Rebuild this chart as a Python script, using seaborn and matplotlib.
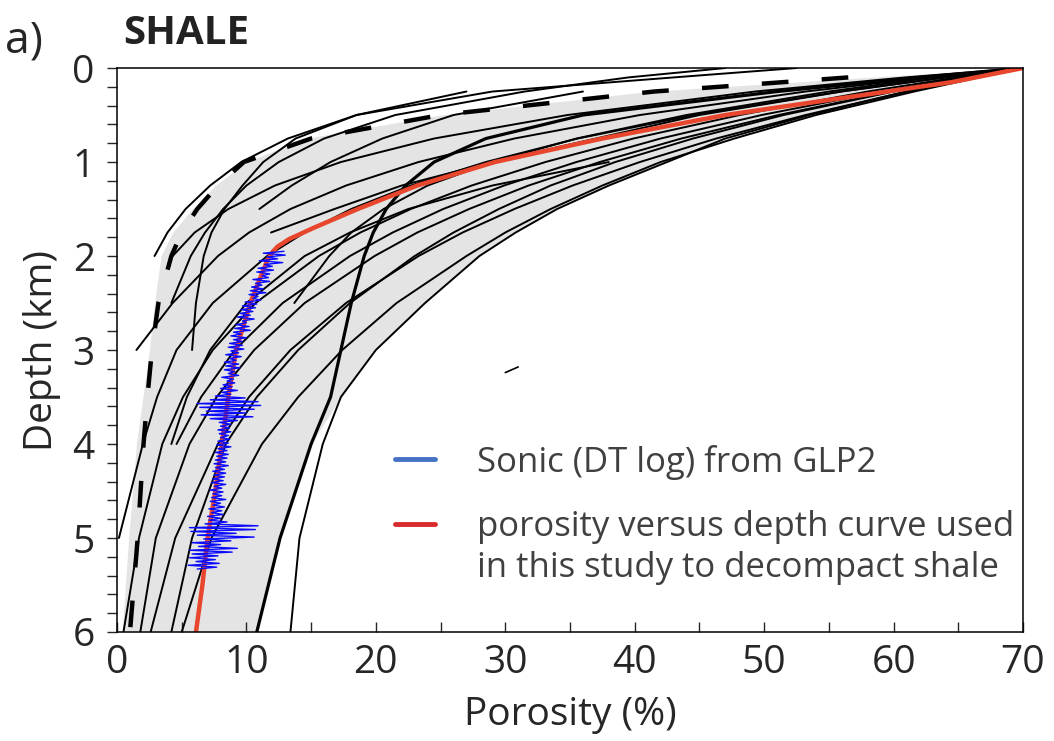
import numpy as np
import pandas as pd
import matplotlib.pyplot as plt
import seaborn as sns
from matplotlib.lines import Line2D
from matplotlib.ticker import MultipleLocator

nan = np.nan

# depth grid (km) shared by the published compaction curves
DEPTH_GRID = [0, 0.1, 0.25, 0.5, 0.75, 1.0, 1.25, 1.5, 1.75, 2.0, 2.5, 3.0, 3.5, 4.0, 5.0, 6.0]

# porosity (%) of every black curve at DEPTH_GRID
curve_r1 = [70, 66.5, 61.0, 53.5, 47.0, 42.5, 38.0, 34.0, 30.8, 28.0, 23.8, 20.0, 17.3, 15.9, 14.1, 13.4]
curve_r2 = [70, 62.0, 51.0, 36.0, 28.5, 24.5, 22.3, 20.8, 19.8, 19.1, 18.1, 17.3, 16.5, 15.0, 12.6, 10.8]
curve_a = [70, 66.6, 61.6, 54.0, 47.7, 42.0, 37.5, 33.5, 30.0, 27.0, 21.6, 17.4, 14.0, 11.2, 7.3, 5.0]
curve_b = [70, 66.0, 60.0, 51.5, 44.5, 38.5, 33.5, 29.5, 26.0, 23.0, 18.0, 14.0, 10.8, 8.4, 5.8, 4.2]
curve_c = [70, 66.3, 61.0, 53.2, 46.3, 40.4, 35.2, 30.7, 26.7, 23.3, 17.7, 13.4, 10.2, 7.8, 4.5, 2.6]
curve_d = [70, 65.7, 59.8, 51.1, 43.6, 37.3, 31.8, 27.2, 23.2, 19.9, 14.5, 10.6, 7.7, 5.6, 3.0, 1.8]
curve_e = [70, 65.4, 59.1, 49.8, 42.0, 35.5, 29.9, 25.2, 21.3, 18.0, 12.8, 9.1, 6.5, 4.6, nan, nan]
curve_f = [70, 64.9, 58.0, 48.1, 39.9, 33.1, 27.4, 22.7, 18.8, 15.6, 10.7, 7.4, 5.1, 3.5, 1.7, 0.5]
curve_g = [70, 64.0, 55.9, 44.6, 35.6, 28.5, 22.7, 18.1, 14.5, 11.6, 7.4, 4.6, 3.1, 2.0, 0.15, nan]
curve_h = [70, 62.7, 53.2, 40.4, 30.7, 23.3, 17.7, 13.4, 10.2, 7.8, 4.3, 1.5, nan, nan, nan, nan]
curve_i = [70, 60.9, 49.3, 34.8, 24.5, 17.3, 12.2, 8.6, 6.0, 4.3, nan, nan, nan, nan, nan, nan]
curve_top1 = [52.5, 43.0, 29.0, 18.5, 13.2, 9.6, 7.2, 5.3, 3.9, 2.9, nan, nan, nan, nan, nan, nan]
curve_top2 = [47.0, 39.5, 31.5, 21.5, 16.0, 12.5, 10.0, 8.2, 6.8, 5.7, 4.2, nan, nan, nan, nan, nan]
curve_short1 = [nan, nan, 36.0, 26.0, 20.5, 16.5, 13.5, 11.0, nan, nan, nan, nan, nan, nan, nan, nan]
curve_steep = [nan, nan, 27.0, 18.5, 13.8, 11.3, 9.7, 8.3, 7.3, 6.7, 6.1, 5.8, nan, nan, nan, nan]
curve_short2 = [70, 63.0, 55.0, 44.0, 35.5, 29.0, 24.0, 20.6, 18.1, 16.4, 13.7, nan, nan, nan, nan, nan]
curve_knee = [70, 64.0, 56.0, 45.0, 37.0, 29.0, 22.0, 16.8, 11.9, nan, nan, nan, nan, nan, nan, nan]
curve_mid = [nan, nan, nan, nan, nan, 38.0, 29.0, 22.5, 18.0, 14.5, 10.0, 7.2, 5.4, 4.2, nan, nan]
curve_dashed = [nan, 56.5, 41.5, 25.0, 15.0, 9.8, 7.8, 6.2, 5.0, 4.2, 3.2, 2.7, 2.35, 2.05, 1.6, 1.0]

# shaded envelope
gray_left = [70, 58.0, 41.0, 25.0, 14.5, 10.0, 7.6, 5.8, 4.3, 3.4, 2.9, 2.5, 2.0, 1.5, 0.9, 0.4]
gray_right = [70, 66.5, 61.0, 53.5, 47.0, 42.5, 38.0, 34.0, 30.8, 28.0, 23.8, 20.0, 17.3, 15.0, 12.6, 10.8]

# short stray stroke
stroke_depth = [3.24, 3.18]
stroke_poro = [30.0, 31.0]

# red curve used in this study
red_depth = [0, 0.15, 0.3, 0.5, 0.75, 1.0, 1.25, 1.5, 1.7, 1.82, 1.9, 1.96, 2.05, 2.5, 3.0, 3.5, 4.0, 4.5, 5.0, 5.5, 6.0]
red_poro = [70, 64.5, 57.0, 47.0, 37.5, 29.2, 23.2, 18.6, 15.2, 13.3, 12.4, 12.0, 11.6, 10.3, 9.2, 8.6, 8.1, 7.6, 7.0, 6.6, 6.1]

# sonic log GLP2, sampled every 0.02 km from 1.95 km
blue_poro = [
    12.9, 11.3, 13.0, 11.6, 12.4, 11.0, 12.8, 11.4, 12.0, 10.9,
    12.1, 10.8, 11.8, 11.2, 11.7, 10.5, 11.8, 10.7, 11.2, 10.4,
    11.3, 10.3, 11.5, 10.2, 10.9, 10.5, 11.1, 9.9, 10.8, 9.7,
    10.7, 9.6, 10.5, 9.5, 10.3, 9.3, 10.6, 9.7, 10.0, 9.2,
    10.2, 9.1, 10.3, 9.0, 9.6, 8.8, 10.0, 9.0, 9.7, 8.7,
    9.7, 8.6, 9.8, 8.8, 9.4, 8.4, 9.6, 8.7, 9.2, 8.3,
    9.4, 8.4, 9.5, 8.3, 9.1, 8.6, 9.4, 8.1, 9.0, 8.5,
    9.1, 8.2, 8.9, 8.0, 9.3, 8.1, 8.8, 7.6, 9.9, 7.2,
    10.9, 6.2, 11.1, 6.4, 10.6, 6.9, 10.0, 6.5, 10.5, 7.2,
    9.3, 7.9, 8.8, 8.0, 8.7, 7.8, 8.8, 7.9, 8.6, 8.0,
    8.7, 7.8, 8.6, 7.7, 8.8, 7.8, 8.5, 7.6, 8.6, 7.7,
    8.5, 7.6, 8.4, 7.5, 8.6, 7.6, 8.3, 7.4, 8.4, 7.5,
    8.3, 7.4, 8.2, 7.3, 8.4, 7.5, 8.1, 7.2, 8.2, 7.4,
    8.1, 7.3, 8.4, 7.2, 8.0, 7.4, 8.3, 7.1, 8.1, 7.3,
    8.2, 7.0, 8.0, 7.1, 8.5, 6.8, 10.9, 5.6, 10.7, 5.7,
    9.2, 6.2, 10.6, 6.7, 8.8, 5.8, 8.0, 6.3, 9.3, 5.6,
    8.9, 5.8, 7.8, 5.6, 7.6, 6.1, 7.9, 5.5, 7.7, 6.2,
]
blue_depth = np.linspace(1.95, 5.33, len(blue_poro))

thin_curves = {
    'r1': curve_r1, 'a': curve_a, 'b': curve_b, 'c': curve_c, 'd': curve_d,
    'e': curve_e, 'f': curve_f, 'g': curve_g, 'h': curve_h, 'i': curve_i,
    'top1': curve_top1, 'top2': curve_top2, 'short1': curve_short1,
    'steep': curve_steep, 'short2': curve_short2, 'knee': curve_knee, 'mid': curve_mid,
}


def to_long(curves):
    rows = []
    for name, poro in curves.items():
        for z, p in zip(DEPTH_GRID, poro):
            if not np.isnan(p):
                rows.append({'curve': name, 'depth': z, 'porosity': p})
    return pd.DataFrame(rows)


sns.set_style('ticks')
plt.rcParams['font.family'] = ['Open Sans', 'DejaVu Sans']

fig = plt.figure(figsize=(10.54, 7.41), dpi=100)
ax = fig.add_axes([0.111, 0.1471, 0.8596, 0.7611])

ax.fill_betweenx(DEPTH_GRID, gray_left, gray_right, color='#e4e4e4', lw=0, zorder=0)

sns.lineplot(data=to_long(thin_curves), x='porosity', y='depth', units='curve',
             estimator=None, sort=False, orient='y', color='black', lw=1.4, ax=ax, legend=False)
sns.lineplot(data=to_long({'r2': curve_r2}), x='porosity', y='depth', estimator=None,
             sort=False, orient='y', color='black', lw=2.3, ax=ax, legend=False)
sns.lineplot(data=to_long({'dash': curve_dashed}), x='porosity', y='depth', estimator=None,
             sort=False, orient='y', color='black', lw=3.2, linestyle=(0, (6, 7.5)), ax=ax, legend=False)
sns.lineplot(x=stroke_poro, y=stroke_depth, estimator=None, sort=False, orient='y',
             color='black', lw=1.2, ax=ax)

sns.lineplot(x=red_poro, y=red_depth, estimator=None, sort=False, orient='y',
             color='#e8472d', lw=3.2, ax=ax)
sns.lineplot(x=blue_poro, y=blue_depth, estimator=None, sort=False, orient='y',
             color='#0a0aff', lw=1.0, ax=ax)

ax.set_xlim(0, 70)
ax.set_ylim(6, 0)
ax.set_xticks(range(0, 71, 10))
ax.xaxis.set_minor_locator(MultipleLocator(5))
ax.set_yticks(range(0, 7))
ax.yaxis.set_minor_locator(MultipleLocator(0.2))
ax.tick_params(axis='x', which='both', direction='in', length=7, width=1.0, labelsize=28, pad=9)
ax.tick_params(axis='y', which='both', direction='out', length=7, width=1.0, labelsize=28, pad=9)
for s in ax.spines.values():
    s.set_linewidth(1.1)
    s.set_color('black')
ax.set_xlabel('Porosity (%)', fontsize=28, labelpad=10)
ax.set_ylabel('Depth (km)', fontsize=28, labelpad=8)

leg_font = {'family': 'Open Sans', 'size': 25}
leg1 = ax.legend([Line2D([], [], color='#4472c4', lw=3.5)], ['Sonic (DT log) from GLP2'],
                 loc='center left', bbox_to_anchor=(0.307, 0.3014), frameon=False,
                 borderpad=0, borderaxespad=0, handlelength=1.15, handletextpad=1.2, prop=leg_font)
ax.add_artist(leg1)
leg2 = ax.legend([Line2D([], [], color='#d92b2b', lw=3.5), Line2D([], [], color='none')],
                 ['porosity versus depth curve used', 'in this study to decompact shale'],
                 loc='center left', bbox_to_anchor=(0.307, 0.1498), frameon=False,
                 borderpad=0, borderaxespad=0, handlelength=1.15, handletextpad=1.2,
                 labelspacing=0.18, prop=leg_font)
for leg in (leg1, leg2):
    for t in leg.get_texts():
        t.set_color('#404040')

fig.text(0.005, 0.945, 'a)', fontsize=32, family='Open Sans', va='center', ha='left')
fig.text(0.117, 0.955, 'SHALE', fontsize=29, family='Open Sans', weight='bold', color='#222222',
         va='center', ha='left')

fig.savefig('out.png', dpi=100)
